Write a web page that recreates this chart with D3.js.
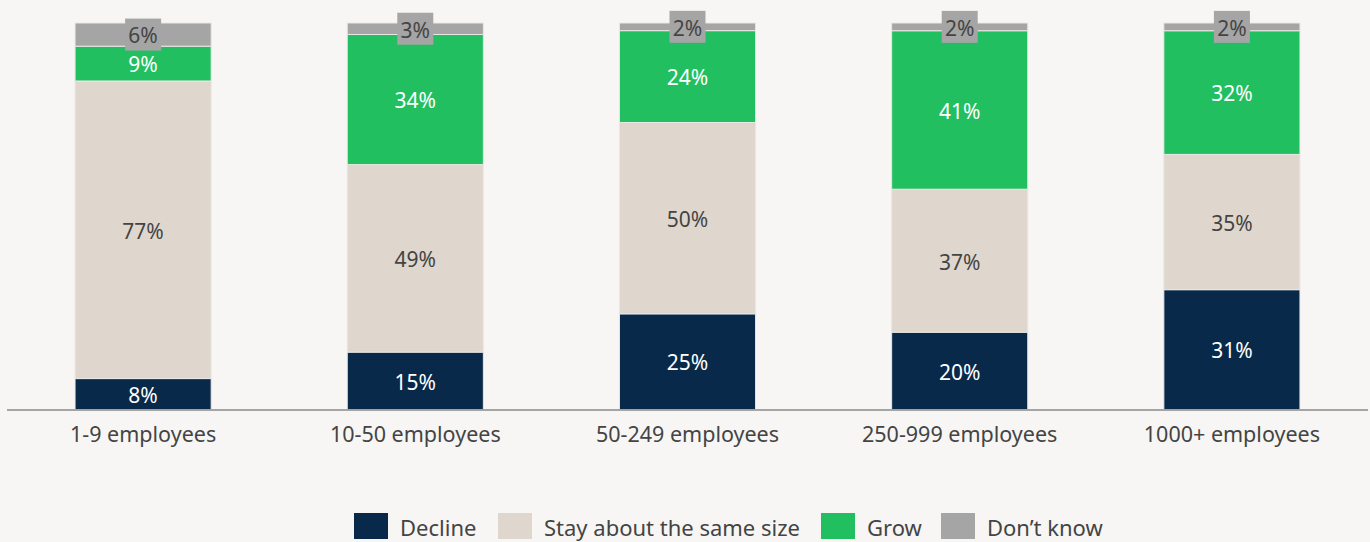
<!DOCTYPE html>
<html>
<head>
<meta charset="utf-8">
<script src="https://cdn.jsdelivr.net/npm/d3@7/dist/d3.min.js"></script>
<style>
  html, body { margin: 0; padding: 0; background: #f7f6f4; }
  svg { display: block; }
  text { font-family: "Noto Sans", "Open Sans", sans-serif; }
</style>
</head>
<body>
<svg id="chart" width="1370" height="542"></svg>
<script>
// Company size groups along the x axis
const categories = ["1-9 employees", "10-50 employees", "50-249 employees", "250-999 employees", "1000+ employees"];
// Response series, bottom to top of each stack
const seriesNames = ["Decline", "Stay about the same size", "Grow", "Don\u2019t know"];
const decline  = [8, 15, 25, 20, 31];
const staySame = [77, 49, 50, 37, 35];
const grow     = [9, 34, 24, 41, 32];
const dontKnow = [6, 3, 2, 2, 2];

const colors = ["#08294a", "#dfd7ce", "#21bf60", "#a5a5a5"];
const labelColors = ["#ffffff", "#444444", "#ffffff", "#444444"];

const rows = categories.map((c, i) => ({
  category: c,
  "Decline": decline[i],
  "Stay about the same size": staySame[i],
  "Grow": grow[i],
  "Don\u2019t know": dontKnow[i]
}));

const svg = d3.select("#chart");

const x = d3.scaleBand()
  .domain(categories)
  .range([7, 1368])
  .paddingInner(0.5)
  .paddingOuter(0.25);

const y = d3.scaleLinear().domain([0, 1]).range([409.5, 23]);

// Each column is shown as shares of its own total
const stacked = d3.stack()
  .keys(seriesNames)
  .offset(d3.stackOffsetExpand)(rows);

const layers = svg.append("g")
  .selectAll("g")
  .data(stacked)
  .join("g")
  .attr("fill", (d, i) => colors[i]);

layers.selectAll("rect")
  .data(d => d)
  .join("rect")
  .attr("x", d => x(d.data.category))
  .attr("width", x.bandwidth())
  .attr("y", d => y(d[1]))
  .attr("height", d => y(d[0]) - y(d[1]))
  .attr("stroke", "#e9e7e4")
  .attr("stroke-width", 1);

// Baseline
svg.append("line")
  .attr("x1", 7).attr("x2", 1368)
  .attr("y1", 410).attr("y2", 410)
  .attr("stroke", "#8a8a8a")
  .attr("stroke-width", 1.5);

// Value labels centred in each segment
stacked.forEach((layer, si) => {
  const g = svg.append("g");
  layer.forEach(d => {
    const cx = x(d.data.category) + x.bandwidth() / 2;
    const cy = (y(d[0]) + y(d[1])) / 2;
    const value = d.data[layer.key];
    if (si === 3) {
      g.append("rect")
        .attr("x", cx - 18).attr("y", cy - 16)
        .attr("width", 36).attr("height", 32)
        .attr("fill", colors[3]);
    }
    g.append("text")
      .attr("x", cx)
      .attr("y", cy)
      .attr("dy", "0.42em")
      .attr("text-anchor", "middle")
      .attr("font-size", 21)
      .attr("fill", labelColors[si])
      .text(value + "%");
  });
});

// Category labels
svg.append("g")
  .selectAll("text")
  .data(categories)
  .join("text")
  .attr("x", d => x(d) + x.bandwidth() / 2)
  .attr("y", 442)
  .attr("text-anchor", "middle")
  .attr("font-size", 21.5)
  .attr("fill", "#444444")
  .text(d => d);

// Legend
const legendX = [354, 498, 821, 941];
const legend = svg.append("g");
seriesNames.forEach((name, i) => {
  legend.append("rect")
    .attr("x", legendX[i]).attr("y", 513)
    .attr("width", 34).attr("height", 26)
    .attr("fill", colors[i]);
  legend.append("text")
    .attr("x", legendX[i] + 46).attr("y", 535.5)
    .attr("font-size", 22)
    .attr("fill", "#444444")
    .text(name);
});
</script>
</body>
</html>
